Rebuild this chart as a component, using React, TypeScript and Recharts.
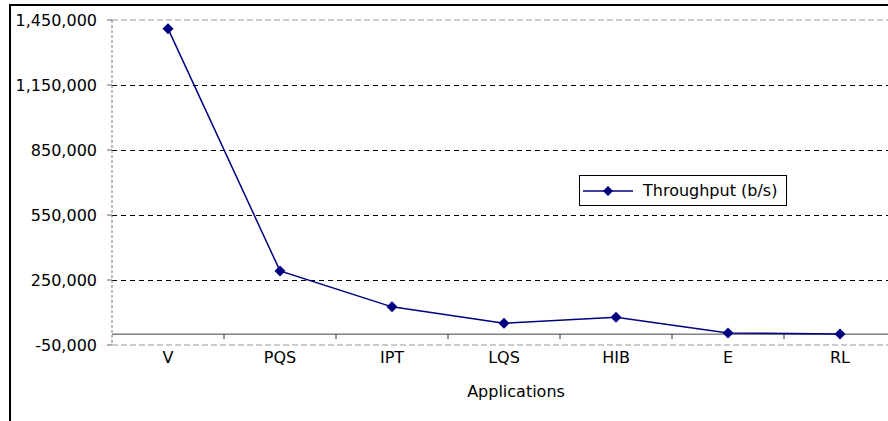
import React from "react";
import { CartesianGrid, Legend, Line, LineChart, ReferenceLine, XAxis, YAxis } from "recharts";

const applications = ["V", "PQS", "IPT", "LQS", "HIB", "E", "RL"];
const throughput = [1410000, 292000, 126000, 50000, 78000, 5000, 1000];
const yTicks = [-50000, 250000, 550000, 850000, 1150000, 1450000];
const innerGrid = [250000, 550000, 850000, 1150000];
const categoryEdges = [1, 2, 3, 4, 5, 6];

const data = applications.map((name, i) => ({ name, pos: i + 0.5, throughput: throughput[i] }));

const NAVY = "#000080";
const FONT = "'DejaVu Sans', sans-serif";

const Diamond = (props: any) => {
    const { cx, cy } = props;
    if (cx == null || cy == null) return null;
    const r = 5.5;
    return (
        <polygon
            points={`${cx},${cy - r} ${cx + r},${cy} ${cx},${cy + r} ${cx - r},${cy}`}
            fill={NAVY}
        />
    );
};

const LegendBox = () => (
    <div
        style={{
            border: "1px solid #000",
            background: "#fff",
            width: 206,
            height: 29,
            display: "flex",
            alignItems: "center",
            fontSize: 16,
            fontFamily: FONT,
            color: "#000",
        }}
    >
        <svg width={50} height={12} style={{ marginLeft: 3 }}>
            <line x1={0} y1={6} x2={50} y2={6} stroke={NAVY} strokeWidth={1.5} />
            <polygon points="25,1 30,6 25,11 20,6" fill={NAVY} />
        </svg>
        <span style={{ marginLeft: 10 }}>Throughput (b/s)</span>
    </div>
);

const App: React.FC = () => {
    return (
        <div
            style={{
                position: "absolute",
                left: 0,
                top: 0,
                width: 888,
                height: 421,
                overflow: "hidden",
                background: "#fff",
                fontFamily: FONT,
            }}
        >
            <div
                style={{
                    position: "absolute",
                    left: 9,
                    top: 4,
                    width: 920,
                    height: 440,
                    borderLeft: "2px solid #000",
                    borderTop: "2px solid #000",
                }}
            />
            <div style={{ position: "absolute", left: 0, top: 0 }}>
                <LineChart
                    width={900}
                    height={421}
                    data={data}
                    margin={{ top: 20, right: 4, left: 0, bottom: 0 }}
                >
                    <CartesianGrid
                        vertical={false}
                        horizontalValues={innerGrid}
                        stroke="#000"
                        strokeDasharray="5 4"
                        shapeRendering="crispEdges"
                    />
                    <ReferenceLine y={1450000} stroke="#999" strokeDasharray="6 3" />
                    <ReferenceLine y={-50000} stroke="#999" strokeDasharray="6 3" />
                    <ReferenceLine y={0} stroke="#808080" strokeWidth={1.5} />
                    {categoryEdges.map((e) => (
                        <ReferenceLine
                            key={e}
                            xAxisId="edge"
                            segment={[
                                { x: e, y: 0 },
                                { x: e, y: -23000 },
                            ]}
                            stroke="#333"
                        />
                    ))}
                    <XAxis
                        dataKey="name"
                        scale="band"
                        axisLine={false}
                        tickLine={false}
                        tickSize={0}
                        tickMargin={7}
                        height={76}
                        tick={{ fill: "#000", fontSize: 16 }}
                        label={{
                            value: "Applications",
                            position: "insideBottom",
                            offset: 24,
                            dx: 12,
                            fill: "#000",
                            fontSize: 16,
                        }}
                    />
                    <XAxis
                        xAxisId="edge"
                        type="number"
                        dataKey="pos"
                        domain={[0, 7]}
                        allowDataOverflow
                        hide
                    />
                    <YAxis
                        width={112}
                        domain={[-50000, 1450000]}
                        ticks={yTicks}
                        interval={0}
                        allowDataOverflow
                        tickFormatter={(v: number) => v.toLocaleString("en-US")}
                        tick={{ fill: "#000", fontSize: 16 }}
                        tickSize={5}
                        tickMargin={10}
                        tickLine={{ stroke: "#666" }}
                        axisLine={{ stroke: "#777", strokeDasharray: "3 2" }}
                    />
                    <Legend
                        layout="horizontal"
                        verticalAlign="middle"
                        align="center"
                        content={<LegendBox />}
                        wrapperStyle={{ left: 579, top: 175, width: 208, height: 31 }}
                    />
                    <Line
                        type="linear"
                        dataKey="throughput"
                        stroke={NAVY}
                        strokeWidth={1.5}
                        dot={<Diamond />}
                        activeDot={false}
                        isAnimationActive={false}
                    />
                </LineChart>
            </div>
        </div>
    );
};

export default App;
